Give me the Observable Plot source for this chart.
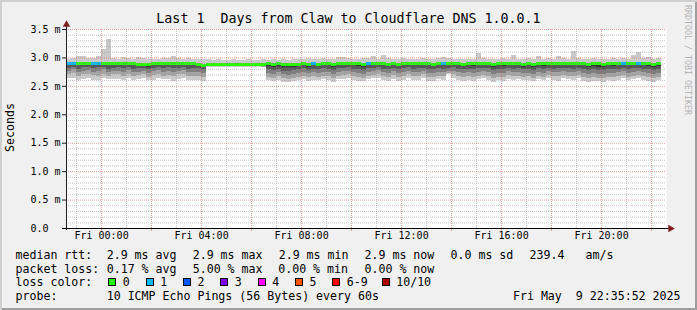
<!DOCTYPE html>
<html><head><meta charset="utf-8">
<script src="https://cdn.jsdelivr.net/npm/d3@7"></script>
<script src="https://cdn.jsdelivr.net/npm/@observablehq/plot@0.6"></script>
<style>
html,body{margin:0;padding:0;background:#fff;}
#wrap{position:relative;width:697px;height:310px;background:#f0f0f0;box-shadow:inset 2px 2px 0 #cfcfcf, inset -2px -2px 0 #9e9e9e;font-family:"DejaVu Sans Mono",monospace;overflow:hidden;}
#wrap svg{position:absolute;left:0;top:0;}
.t{position:absolute;white-space:pre;color:#000;font-size:11.6px;line-height:14px;}
.title{position:absolute;left:0;width:697px;top:11px;text-align:center;white-space:pre;font-size:13.3px;line-height:16px;}
.box{position:absolute;width:6px;height:6px;border:1px solid #000;}
.side{position:absolute;left:683px;top:5px;writing-mode:vertical-rl;font-size:8.3px;line-height:10px;color:#b4b4b4;white-space:pre;}
.ylab{position:absolute;left:3px;top:103px;writing-mode:vertical-rl;transform:rotate(180deg);font-size:11.6px;line-height:14px;white-space:pre;}
</style></head>
<body><div id="wrap"></div>
<script>
// ---- data (ms), one value per 12-minute step, Thu 22:36 .. Fri 22:24 ----
const median = [
2.90,2.90,2.91,2.91,2.91,2.90,2.90,2.91,2.91,2.90,
2.90,2.90,2.91,2.90,2.89,2.89,2.88,2.90,2.91,2.90,
2.91,2.90,2.90,2.91,2.90,2.90,2.88,2.87,
2.89,2.88,2.88,2.88,2.88,2.88,2.88,2.88,2.88,2.88,2.88,2.88,
2.90,2.89,2.90,2.89,2.88,2.88,2.89,2.90,2.89,2.90,
2.89,2.90,2.90,2.89,2.90,2.90,2.91,2.90,2.90,2.89,
2.90,2.90,2.91,2.90,2.89,2.90,2.89,2.90,2.91,2.90,
2.90,2.91,2.90,2.89,2.90,2.90,2.90,2.91,2.90,2.89,
2.90,2.90,2.90,2.91,2.90,2.89,2.90,2.90,2.91,2.90,
2.90,2.89,2.90,2.89,2.90,2.90,2.91,2.90,2.90,2.91,
2.90,2.90,2.91,2.90,2.89,2.90,2.90,2.89,2.90,2.90,
2.90,2.91,2.90,2.90,2.91,2.90,2.90,2.89,2.90];
const p10 = [
2.98,2.99,3.03,3.03,2.99,2.99,3.03,3.15,3.33,2.99,
2.98,3.00,2.99,2.97,3.00,2.99,2.97,2.98,2.98,2.99,
2.99,3.03,2.99,2.98,2.99,2.98,2.97,2.97,
2.97,2.96,2.97,2.96,2.96,2.97,2.96,2.96,2.97,2.96,2.96,2.97,
2.96,2.97,2.96,2.97,2.96,2.97,2.98,2.97,2.99,2.98,
2.98,2.99,2.97,2.98,3.00,3.00,2.99,2.97,2.98,2.99,
2.99,3.03,2.98,3.05,2.99,2.98,2.97,2.99,2.98,2.98,
2.98,2.99,2.98,2.97,2.99,3.00,2.99,2.98,2.97,2.98,
2.97,2.98,3.08,2.99,2.98,2.97,2.98,2.99,2.98,3.04,
2.98,2.97,2.99,2.98,3.03,2.98,2.99,2.98,3.02,2.99,
2.98,3.12,2.99,2.98,2.97,2.99,2.98,2.97,2.98,2.99,
2.98,2.99,2.98,3.04,3.10,2.99,3.00,2.98,2.99];
const p5 = [
2.86,2.87,2.87,2.86,2.88,2.86,2.87,2.88,2.86,2.87,
2.87,2.86,2.88,2.86,2.85,2.86,2.84,2.87,2.88,2.86,
2.87,2.86,2.87,2.88,2.86,2.86,2.85,2.84,
2.87,2.86,2.86,2.87,2.87,2.87,2.87,2.87,2.87,2.87,2.87,2.86,
2.85,2.84,2.85,2.83,2.83,2.84,2.85,2.86,2.84,2.86,
2.85,2.86,2.86,2.84,2.86,2.87,2.87,2.86,2.85,2.84,
2.86,2.87,2.88,2.86,2.85,2.87,2.85,2.86,2.87,2.86,
2.86,2.87,2.86,2.85,2.86,2.86,2.87,2.88,2.86,2.85,
2.86,2.85,2.86,2.87,2.86,2.84,2.86,2.85,2.87,2.86,
2.86,2.84,2.86,2.84,2.86,2.85,2.87,2.86,2.86,2.87,
2.86,2.86,2.87,2.86,2.84,2.85,2.84,2.84,2.86,2.85,
2.86,2.87,2.86,2.86,2.87,2.86,2.85,2.84,2.85];
const p4 = [
2.82,2.84,2.80,2.83,2.84,2.81,2.83,2.84,2.80,2.82,
2.83,2.81,2.84,2.80,2.81,2.82,2.79,2.82,2.84,2.81,
2.83,2.81,2.82,2.84,2.80,2.81,2.81,2.79,
2.87,2.86,2.86,2.86,2.86,2.86,2.86,2.86,2.86,2.86,2.86,2.85,
2.79,2.78,2.80,2.77,2.76,2.78,2.80,2.81,2.78,2.80,
2.79,2.81,2.80,2.78,2.81,2.82,2.83,2.80,2.79,2.78,
2.81,2.82,2.84,2.80,2.79,2.82,2.79,2.81,2.83,2.80,
2.81,2.82,2.80,2.79,2.81,2.80,2.82,2.83,2.80,2.79,
2.80,2.79,2.81,2.82,2.81,2.78,2.80,2.79,2.82,2.80,
2.81,2.79,2.80,2.78,2.81,2.80,2.82,2.80,2.81,2.82,
2.81,2.80,2.82,2.80,2.78,2.79,2.78,2.78,2.80,2.79,
2.80,2.82,2.80,2.81,2.82,2.80,2.79,2.78,2.79];
const p3 = [
2.77,2.79,2.74,2.77,2.78,2.75,2.76,2.79,2.74,2.77,
2.77,2.75,2.78,2.74,2.75,2.76,2.73,2.76,2.78,2.75,
2.77,2.74,2.76,2.78,2.74,2.75,2.75,2.73,
2.86,2.85,2.86,2.86,2.86,2.86,2.86,2.86,2.86,2.86,2.86,2.85,
2.73,2.71,2.74,2.70,2.69,2.71,2.73,2.75,2.72,2.74,
2.73,2.75,2.74,2.71,2.75,2.76,2.77,2.74,2.72,2.71,
2.75,2.76,2.78,2.74,2.72,2.76,2.72,2.74,2.77,2.74,
2.75,2.76,2.73,2.72,2.75,2.74,2.76,2.77,2.74,2.72,
2.74,2.72,2.75,2.76,2.74,2.71,2.73,2.72,2.76,2.74,
2.75,2.73,2.73,2.71,2.75,2.73,2.76,2.74,2.74,2.76,
2.75,2.74,2.76,2.73,2.71,2.72,2.71,2.71,2.73,2.72,
2.74,2.76,2.73,2.75,2.76,2.74,2.72,2.71,2.72];
const p2 = [
2.70,2.72,2.68,2.71,2.70,2.69,2.67,2.71,2.68,2.70,
2.70,2.68,2.71,2.67,2.69,2.70,2.66,2.69,2.71,2.68,
2.69,2.67,2.70,2.71,2.67,2.68,2.68,2.66,
2.85,2.85,2.85,2.85,2.85,2.85,2.85,2.85,2.85,2.85,2.85,2.84,
2.66,2.64,2.67,2.63,2.62,2.64,2.66,2.68,2.65,2.67,
2.66,2.68,2.67,2.64,2.68,2.69,2.70,2.67,2.65,2.64,
2.68,2.69,2.71,2.67,2.65,2.69,2.65,2.67,2.70,2.67,
2.68,2.70,2.66,2.65,2.68,2.67,2.72,2.70,2.67,2.65,
2.67,2.65,2.68,2.69,2.67,2.64,2.66,2.65,2.69,2.67,
2.68,2.66,2.67,2.64,2.68,2.66,2.69,2.67,2.67,2.69,
2.68,2.67,2.69,2.66,2.64,2.65,2.64,2.64,2.66,2.65,
2.67,2.69,2.66,2.68,2.69,2.67,2.65,2.64,2.65];
const p1 = [
2.63,2.64,2.61,2.62,2.63,2.61,2.60,2.63,2.62,2.62,
2.62,2.61,2.64,2.60,2.62,2.63,2.60,2.61,2.63,2.62,
2.62,2.59,2.62,2.63,2.60,2.61,2.60,2.59,
2.84,2.83,2.84,2.84,2.84,2.84,2.84,2.84,2.84,2.84,2.84,2.83,
2.60,2.58,2.61,2.57,2.56,2.58,2.60,2.62,2.59,2.61,
2.60,2.62,2.61,2.57,2.62,2.62,2.63,2.60,2.59,2.58,
2.62,2.63,2.64,2.61,2.58,2.62,2.59,2.61,2.63,2.60,
2.61,2.64,2.59,2.58,2.62,2.60,2.70,2.64,2.60,2.58,
2.60,2.59,2.62,2.63,2.61,2.57,2.60,2.58,2.62,2.60,
2.62,2.60,2.61,2.58,2.62,2.60,2.63,2.61,2.59,2.63,
2.62,2.60,2.63,2.59,2.57,2.58,2.58,2.57,2.60,2.59,
2.61,2.63,2.60,2.62,2.63,2.61,2.59,2.57,2.60];
const loss = [
1,1,0,0,0,1,1,0,0,0, 0,0,0,0,0,0,0,0,0,0, 0,0,0,0,0,0,0,0,
0,0,0,0,0,0,0,0,0,0,0,0,
0,0,0,0,0,0,0,0,0,1, 0,0,0,0,0,0,0,0,0,0, 1,0,0,0,0,0,0,0,0,0,
0,0,0,0,0,1,0,0,0,0, 0,0,0,0,0,0,0,0,0,0, 0,0,0,0,0,0,0,0,0,0,
0,0,0,0,0,0,0,0,0,0, 0,1,0,0,1,0,0,0,0];
const yTicks = [0, 0.5, 1.0, 1.5, 2.0, 2.5, 3.0, 3.5];
const lossLabels = ["0","1","2","3","4","5","6-9","10/10"];
const lossColors = ["#26ff00","#00b8ff","#0059ff","#7e00ff","#ff00ff","#ff5500","#ff0000","#a80000"];
const smokeColors = ["#cacaca","#a4a4a4","#7e7e7e","#585858","#323232"];

const start = new Date(Date.UTC(2025,4,8,22,35,52));
const end = new Date(Date.UTC(2025,4,9,22,35,52));
const firstStep = new Date(Date.UTC(2025,4,8,22,36,0));
const stepMs = 12*60*1000;
const lossIndex = n => n <= 5 ? n : (n < 10 ? 6 : 7);
const rows = median.map((m,i) => ({
  start: new Date(+firstStep + i*stepMs), end: new Date(+firstStep + (i+1)*stepMs),
  median: m, p1: p1[i], p2: p2[i], p3: p3[i], p4: p4[i], p5: p5[i], p10: p10[i],
  color: lossColors[lossIndex(loss[i])]
}));

const hours = d3.utcHour.range(start, end);
const hMinor = hours.filter(d => d.getUTCHours() % 2 === 1);
const hMajor = hours.filter(d => d.getUTCHours() % 2 === 0);
const hLabel = hours.filter(d => d.getUTCHours() % 4 === 0);
const yMinor = d3.range(1, 35).map(i => i/10).filter(v => Math.abs(v*2 - Math.round(v*2)) > 1e-6);
const fmtX = d3.utcFormat("%a %H:%M");
const fmtY = d => d === 0 ? "0.0" : d.toFixed(1) + " m";
const gridMinor = "rgba(143,143,143,0.5)";
const gridMajor = "rgba(224,80,80,0.5)";
const rectOpts = (y1, y2, fill) => ({x1: "start", x2: "end", y1, y2, fill, shapeRendering: "crispEdges"});

const chart = Plot.plot({
  width: 697, height: 310,
  marginLeft: 66, marginRight: 31, marginTop: 29, marginBottom: 82,
  style: {background: "transparent", fontFamily: "DejaVu Sans Mono", fontSize: "10px", color: "#000"},
  x: {type: "utc", domain: [start, end], axis: null},
  y: {domain: [0, 3.5], axis: null},
  color: {type: "identity"},
  marks: [
    Plot.frame({fill: "#fff", stroke: "none"}),
    Plot.rect(rows, rectOpts("p1", "p10", smokeColors[0])),
    Plot.rect(rows, rectOpts("p2", "median", smokeColors[1])),
    Plot.rect(rows, rectOpts("p3", "median", smokeColors[2])),
    Plot.rect(rows, rectOpts("p4", "median", smokeColors[3])),
    Plot.rect(rows, rectOpts("p5", "median", smokeColors[4])),
    Plot.ruleY(rows, {y: "median", x1: "start", x2: "end", stroke: "color", strokeWidth: 3, shapeRendering: "crispEdges"}),
    Plot.ruleY(yMinor, {stroke: gridMinor, strokeDasharray: "1,1"}),
    Plot.ruleX(hMinor, {stroke: gridMinor, strokeDasharray: "1,1"}),
    Plot.ruleY(yTicks.filter(d => d > 0), {stroke: gridMajor, strokeDasharray: "1,1"}),
    Plot.ruleX(hMajor, {stroke: gridMajor, strokeDasharray: "1,1"}),
    Plot.ruleX(hMajor, {y1: 0, y2: 0, insetBottom: -3, stroke: gridMajor}),
    Plot.ruleY(yTicks, {x1: () => start, x2: () => start, insetLeft: -4, stroke: "#1f1f1f"}),
    Plot.ruleX([start], {stroke: "#1f1f1f", insetTop: -4, insetBottom: -2}),
    Plot.ruleY([0], {stroke: "#000", insetLeft: -4, insetRight: -3}),
    Plot.dot([{x: start, y: 3.5}], {x: "x", y: "y", symbol: "triangle", r: 2.8, fill: "#7f1f1f", stroke: "none", dy: -5}),
    Plot.dot([{x: end, y: 0}], {x: "x", y: "y", symbol: "triangle", r: 2.8, fill: "#7f1f1f", stroke: "none", rotate: 90, dx: 4}),
    Plot.text(yTicks, {y: d => d, text: fmtY, frameAnchor: "left", textAnchor: "start", dx: -36, fontSize: 10}),
    Plot.text(hLabel, {x: d => d, text: fmtX, frameAnchor: "bottom", dy: 10, fontSize: 10})
  ]
});

const wrap = document.getElementById("wrap");
wrap.appendChild(chart);

function addText(cls, text, left, top) {
  const el = document.createElement("div");
  el.className = cls;
  el.textContent = text;
  if (left != null) el.style.left = left + "px";
  if (top != null) el.style.top = top + "px";
  wrap.appendChild(el);
  return el;
}
addText("title", "Last 1  Days from Claw to Cloudflare DNS 1.0.0.1");
addText("side", "RRDTOOL / TOBI OETIKER");
addText("ylab", "Seconds");

const rowTop = [247.5, 261.5, 274.9, 289.2];
const segments = [
  ["median rtt:", 15.5, 0], ["2.9 ms avg", 106.7, 0], ["2.9 ms max", 192.7, 0], ["2.9 ms min", 278.7, 0],
  ["2.9 ms now", 364.5, 0], ["0.0 ms sd", 450.5, 0], ["239.4", 529.5, 0], ["am/s", 585.5, 0],
  ["packet loss:", 15.5, 1], ["0.17 % avg", 106.7, 1], ["5.00 % max", 192.7, 1], ["0.00 % min", 278.2, 1], ["0.00 % now", 364.5, 1],
  ["loss color:", 15.5, 2],
  ["probe:", 15.5, 3], ["10 ICMP Echo Pings (56 Bytes) every 60s", 106.7, 3]
];
segments.forEach(([t, x, r]) => addText("t", t, x, rowTop[r]));
const boxX = [108.3, 145.7, 183.0, 220.3, 257.7, 295.0, 332.3, 381.7];
lossLabels.forEach((lab, i) => {
  const b = document.createElement("div");
  b.className = "box";
  b.style.left = boxX[i] + "px";
  b.style.top = "277.7px";
  b.style.background = lossColors[i];
  wrap.appendChild(b);
  addText("t", lab, boxX[i] + 14.5, rowTop[2]);
});
const dateEl = addText("t", "Fri May  9 22:35:52 2025", null, rowTop[3]);
dateEl.style.right = "16.5px";
</script>
</body></html>
